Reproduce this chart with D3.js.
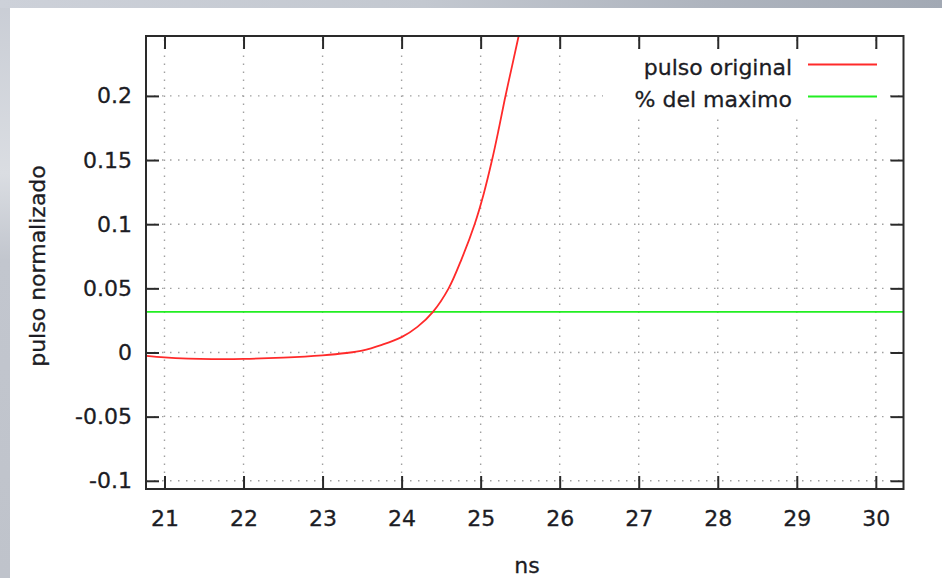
<!DOCTYPE html>
<html>
<head>
<meta charset="utf-8">
<script src="https://cdn.jsdelivr.net/npm/d3@7"></script>
<style>
  html, body { margin: 0; padding: 0; background: #fff; }
  svg { display: block; }
  text { font-family: "DejaVu Sans", Verdana, sans-serif; fill: #1c1c24; stroke: #1c1c24; stroke-width: 0.3; }
</style>
</head>
<body>
<svg id="chart" width="942" height="578"></svg>
<script>
// Pulse rising edge (time in ns, normalised amplitude)
const pulseTime = [20.77, 21.0, 21.3, 21.6, 22.0, 22.5, 23.0, 23.3, 23.5, 23.75, 24.0, 24.2,
                   24.397, 24.595, 24.76, 24.924, 25.04, 25.144, 25.225, 25.304, 25.40, 25.481, 25.56];
const pulseValue = [-0.0026, -0.0038, -0.0047, -0.0051, -0.0050, -0.0040, -0.0022, -0.0004, 0.0015, 0.0060, 0.0120, 0.0200,
                    0.0317, 0.050, 0.073, 0.100, 0.124, 0.150, 0.173, 0.197, 0.224, 0.2467, 0.268];
// Threshold level: fraction of the pulse maximum
const thresholdLevel = 0.0317;

const xTicks = [21, 22, 23, 24, 25, 26, 27, 28, 29, 30];
const yTicks = [-0.1, -0.05, 0, 0.05, 0.1, 0.15, 0.2];
const yTickLabels = ["-0.1", "-0.05", "0", "0.05", "0.1", "0.15", "0.2"];
const seriesNames = ["pulso original", "% del maximo"];
const seriesColors = ["#ff2a2a", "#22ee22"];

const svg = d3.select("#chart");
const W = 942, H = 578;
const plot = { left: 146, right: 903.5, top: 36, bottom: 489 };
const fontSize = 22;

// Window background around the white canvas
const defs = svg.append("defs");
const gTop = defs.append("linearGradient").attr("id", "bgTop").attr("x1", 0).attr("x2", 1).attr("y1", 0).attr("y2", 0);
gTop.append("stop").attr("offset", "0").attr("stop-color", "#cdd1d9");
gTop.append("stop").attr("offset", "0.45").attr("stop-color", "#c3c8d0");
gTop.append("stop").attr("offset", "0.75").attr("stop-color", "#aeb4be");
gTop.append("stop").attr("offset", "1").attr("stop-color", "#a2a9b4");
const gLeft = defs.append("linearGradient").attr("id", "bgLeft").attr("x1", 0).attr("x2", 0).attr("y1", 0).attr("y2", 1);
gLeft.append("stop").attr("offset", "0").attr("stop-color", "#c9cdd5");
gLeft.append("stop").attr("offset", "0.3").attr("stop-color", "#dadde2");
gLeft.append("stop").attr("offset", "0.45").attr("stop-color", "#c2c6ce");
gLeft.append("stop").attr("offset", "1").attr("stop-color", "#bfc3cb");
svg.append("rect").attr("x", 0).attr("y", 0).attr("width", W).attr("height", H).attr("fill", "url(#bgLeft)");
svg.append("rect").attr("x", 0).attr("y", 0).attr("width", W).attr("height", 8).attr("fill", "url(#bgTop)");
svg.append("rect").attr("x", 10).attr("y", 8).attr("width", W - 10).attr("height", H - 8).attr("fill", "#ffffff");

const x = d3.scaleLinear().domain([20.766, 30.35]).range([plot.left, plot.right]);
const y = d3.scaleLinear().domain([-0.1064, 0.2467]).range([plot.bottom, plot.top]);

defs.append("clipPath").attr("id", "plotClip").append("rect")
  .attr("x", plot.left).attr("y", plot.top)
  .attr("width", plot.right - plot.left).attr("height", plot.bottom - plot.top);

// Dotted grid
const grid = svg.append("g").attr("stroke", "#a0a0a0").attr("stroke-width", 1.4)
  .attr("stroke-dasharray", "1.5,6.5").attr("fill", "none");
grid.selectAll("line.gx").data(xTicks).join("line").attr("class", "gx")
  .attr("x1", d => x(d)).attr("x2", d => x(d))
  .attr("y1", plot.bottom).attr("y2", plot.top);
grid.selectAll("line.gy").data(yTicks).join("line").attr("class", "gy")
  .attr("x1", plot.left).attr("x2", plot.right)
  .attr("y1", d => y(d)).attr("y2", d => y(d));

// Opaque key box
const key = { x0: 603, x1: 889, y0: 49, y1: 116 };
svg.append("rect").attr("x", key.x0).attr("y", key.y0)
  .attr("width", key.x1 - key.x0).attr("height", key.y1 - key.y0).attr("fill", "#ffffff");

// Data
const data = pulseTime.map((t, i) => ({ t, v: pulseValue[i] }));
const plotArea = svg.append("g").attr("clip-path", "url(#plotClip)");
plotArea.append("line")
  .attr("x1", plot.left).attr("x2", plot.right)
  .attr("y1", y(thresholdLevel)).attr("y2", y(thresholdLevel))
  .attr("stroke", seriesColors[1]).attr("stroke-width", 1.8);
plotArea.append("path").datum(data)
  .attr("fill", "none").attr("stroke", seriesColors[0]).attr("stroke-width", 1.8)
  .attr("d", d3.line().x(d => x(d.t)).y(d => y(d.v)).curve(d3.curveCatmullRom.alpha(0.5)));

// Key entries
const keyRows = [67, 99];
seriesNames.forEach((name, i) => {
  svg.append("text").attr("x", 792).attr("y", keyRows[i]).attr("dy", "0.36em")
    .attr("text-anchor", "end").attr("font-size", fontSize).text(name);
  svg.append("line").attr("x1", 808).attr("x2", 877)
    .attr("y1", keyRows[i] - 2.5).attr("y2", keyRows[i] - 2.5)
    .attr("stroke", seriesColors[i]).attr("stroke-width", 2);
});

// Axes with inward ticks on all four sides
const tickLen = 13;
const fmtY = d => yTickLabels[yTicks.indexOf(d)];
const styleAxis = g => {
  g.select(".domain").remove();
  g.selectAll(".tick line").attr("stroke", "#2a2a2a").attr("stroke-width", 2);
  g.selectAll(".tick text").attr("font-size", fontSize).attr("fill", "#1c1c24")
    .attr("font-family", "DejaVu Sans, Verdana, sans-serif");
};
svg.append("g").attr("transform", `translate(0,${plot.bottom})`)
  .call(d3.axisBottom(x).tickValues(xTicks).tickSize(-tickLen).tickPadding(21).tickFormat(d3.format("d")))
  .call(styleAxis);
svg.append("g").attr("transform", `translate(0,${plot.top})`)
  .call(d3.axisTop(x).tickValues(xTicks).tickSize(-tickLen).tickFormat(""))
  .call(styleAxis);
svg.append("g").attr("transform", `translate(${plot.left},0)`)
  .call(d3.axisLeft(y).tickValues(yTicks).tickSize(-tickLen).tickPadding(14).tickFormat(fmtY))
  .call(styleAxis);
svg.append("g").attr("transform", `translate(${plot.right},0)`)
  .call(d3.axisRight(y).tickValues(yTicks).tickSize(-tickLen).tickFormat(""))
  .call(styleAxis);

// Border
svg.append("rect").attr("x", plot.left).attr("y", plot.top)
  .attr("width", plot.right - plot.left).attr("height", plot.bottom - plot.top)
  .attr("fill", "none").attr("stroke", "#2a2a2a").attr("stroke-width", 2);

// Axis titles
svg.append("text").attr("x", 527).attr("y", 573).attr("text-anchor", "middle")
  .attr("font-size", fontSize).text("ns");
svg.append("text").attr("transform", "translate(45,266) rotate(-90)")
  .attr("text-anchor", "middle").attr("font-size", fontSize).text("pulso normalizado");
</script>
</body>
</html>
